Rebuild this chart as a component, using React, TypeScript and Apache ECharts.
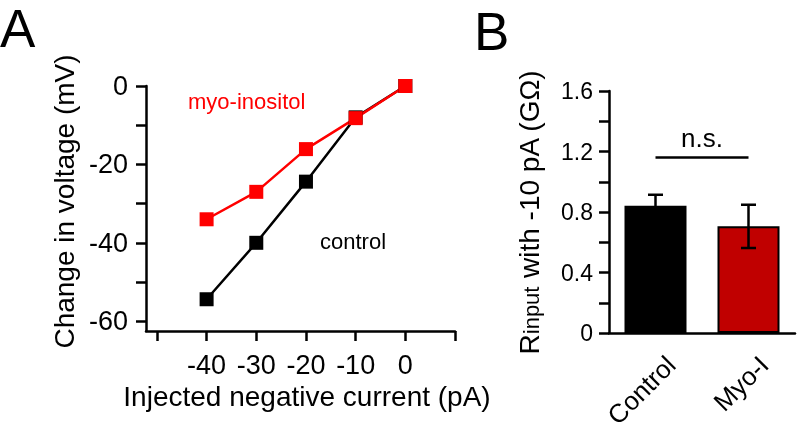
import React, { useEffect, useRef } from "react";
import * as echarts from "echarts";

const currentTicks = [-50, -40, -30, -20, -10, 0, 10];
const currentLabels = [-40, -30, -20, -10, 0];
const voltageTicks = [-60, -50, -40, -30, -20, -10, 0];
const voltageLabels = [-60, -40, -20, 0];
const controlIV: [number, number][] = [[-40, -54.4], [-30, -40], [-20, -24.4], [-10, -8], [0, 0]];
const myoIV: [number, number][] = [[-40, -34], [-30, -27], [-20, -16.1], [-10, -8.2], [0, 0]];

const groups = ["Control", "Myo-I"];
const rinputMean = [0.842, 0.705];
const rinputErr = [0.072, 0.143];
const rTicks = [0, 0.2, 0.4, 0.6, 0.8, 1.0, 1.2, 1.4, 1.6];
const rLabels = [0, 0.4, 0.8, 1.2, 1.6];
const nsLevel = 1.161;

const FONT = "'Liberation Sans', Arial, Helvetica, sans-serif";

export default function App() {
  const ref = useRef<HTMLDivElement>(null);
  useEffect(() => {
    if (!ref.current) return;
    const chart = echarts.init(ref.current, null, { renderer: "svg" });
    const axisLine = { show: true, onZero: false, lineStyle: { color: "#000", width: 2.5 } };
    const axisTick = (vals: number[]) => ({
      show: true,
      length: 10,
      lineStyle: { color: "#000", width: 2.5 },
      customValues: vals,
    });
    chart.setOption({
      animation: false,
      textStyle: { fontFamily: FONT },
      grid: [
        { left: 146, top: 86, width: 309, height: 245, outerBoundsMode: "none", containLabel: false },
        { left: 609, top: 91, width: 186, height: 242, outerBoundsMode: "none", containLabel: false },
      ],
      xAxis: [
        {
          type: "value",
          gridIndex: 0,
          min: -52.2,
          max: 10,
          axisLine,
          axisTick: axisTick(currentTicks),
          axisLabel: { customValues: currentLabels, fontSize: 27, color: "#000", margin: 20, fontFamily: FONT },
          splitLine: { show: false },
          name: "Injected negative current (pA)",
          nameLocation: "middle",
          nameGap: 46,
          nameTextStyle: { fontSize: 28, color: "#000", fontFamily: FONT, padding: [0, 0, 0, 13] },
        },
        {
          type: "category",
          gridIndex: 1,
          data: groups,
          axisLine,
          axisTick: { show: false },
          axisLabel: {
            interval: 0,
            rotate: 45,
            fontSize: 26,
            color: "#000",
            margin: 12,
            lineHeight: 44,
            verticalAlign: "top",
            fontFamily: FONT,
          },
        },
      ],
      yAxis: [
        {
          type: "value",
          gridIndex: 0,
          min: -62.5,
          max: 0,
          axisLine,
          axisTick: axisTick(voltageTicks),
          axisLabel: { customValues: voltageLabels, fontSize: 27, color: "#000", margin: 18, fontFamily: FONT },
          splitLine: { show: false },
          name: "Change in voltage (mV)",
          nameLocation: "middle",
          nameGap: 68,
          nameTextStyle: { fontSize: 28, color: "#000", fontFamily: FONT, padding: [0, 0, 0, 14] },
        },
        {
          type: "value",
          gridIndex: 1,
          min: 0,
          max: 1.6,
          axisLine,
          axisTick: axisTick(rTicks),
          axisLabel: { customValues: rLabels, fontSize: 23, color: "#000", margin: 16, fontFamily: FONT },
          splitLine: { show: false },
          name: "{R|R}{sub|input}{n| with -10 pA (GΩ)}",
          nameLocation: "middle",
          nameGap: 66,
          nameTextStyle: {
            color: "#000",
            fontFamily: FONT,
            rich: {
              R: { fontSize: 28, color: "#000", fontFamily: FONT },
              sub: { fontSize: 22, color: "#000", fontFamily: FONT, padding: [5, 0, 0, 0] },
              n: { fontSize: 28, color: "#000", fontFamily: FONT },
            },
          },
        },
      ],
      series: [
        {
          type: "line",
          xAxisIndex: 0,
          yAxisIndex: 0,
          data: controlIV,
          symbol: "rect",
          symbolSize: 14,
          lineStyle: { color: "#000", width: 2.5 },
          itemStyle: { color: "#000" },
        },
        {
          type: "line",
          xAxisIndex: 0,
          yAxisIndex: 0,
          data: myoIV,
          symbol: "rect",
          symbolSize: 14,
          lineStyle: { color: "#ff0000", width: 2.5 },
          itemStyle: { color: "#ff0000" },
        },
        {
          type: "bar",
          xAxisIndex: 1,
          yAxisIndex: 1,
          barWidth: 62,
          data: rinputMean.map((v, i) => ({
            value: v,
            itemStyle: { color: i === 0 ? "#000" : "#c00000", borderColor: "#000", borderWidth: 2 },
          })),
          markLine: {
            silent: true,
            symbol: "none",
            lineStyle: { color: "#000", width: 2.5, type: "solid" },
            label: { show: true, position: "middle", formatter: "n.s.", fontSize: 26, color: "#000", fontFamily: FONT, distance: 6 },
            data: [[{ coord: [0, nsLevel] }, { coord: [1, nsLevel] }]],
          },
        },
        {
          type: "custom",
          xAxisIndex: 1,
          yAxisIndex: 1,
          data: rinputMean.map((v, i) => [i, v, rinputErr[i]]),
          renderItem: (params: any, api: any) => {
            const x = api.value(0);
            const m = api.value(1);
            const e = api.value(2);
            const top = api.coord([x, m + e]);
            const bot = api.coord([x, m - e]);
            const hw = 7.5;
            const style = { stroke: "#000", lineWidth: 2.5 };
            return {
              type: "group",
              children: [
                { type: "line", shape: { x1: top[0], y1: top[1], x2: bot[0], y2: bot[1] }, style },
                { type: "line", shape: { x1: top[0] - hw, y1: top[1], x2: top[0] + hw, y2: top[1] }, style },
                { type: "line", shape: { x1: bot[0] - hw, y1: bot[1], x2: bot[0] + hw, y2: bot[1] }, style },
              ],
            };
          },
          z: 5,
        },
      ],
      graphic: [
        { type: "text", left: 0, top: 2, style: { text: "A", fontSize: 53, fill: "#000", fontFamily: FONT } },
        { type: "text", left: 474, top: 5, style: { text: "B", fontSize: 53, fill: "#000", fontFamily: FONT } },
        { type: "text", left: 188, top: 90, style: { text: "myo-inositol", fontSize: 22, fill: "#ff0000", fontFamily: FONT } },
        { type: "text", left: 320, top: 230, style: { text: "control", fontSize: 22, fill: "#000", fontFamily: FONT } },
      ],
    });
    return () => chart.dispose();
  }, []);
  return <div ref={ref} style={{ position: "fixed", left: 0, top: 0, width: 798, height: 438 }} />;
}
